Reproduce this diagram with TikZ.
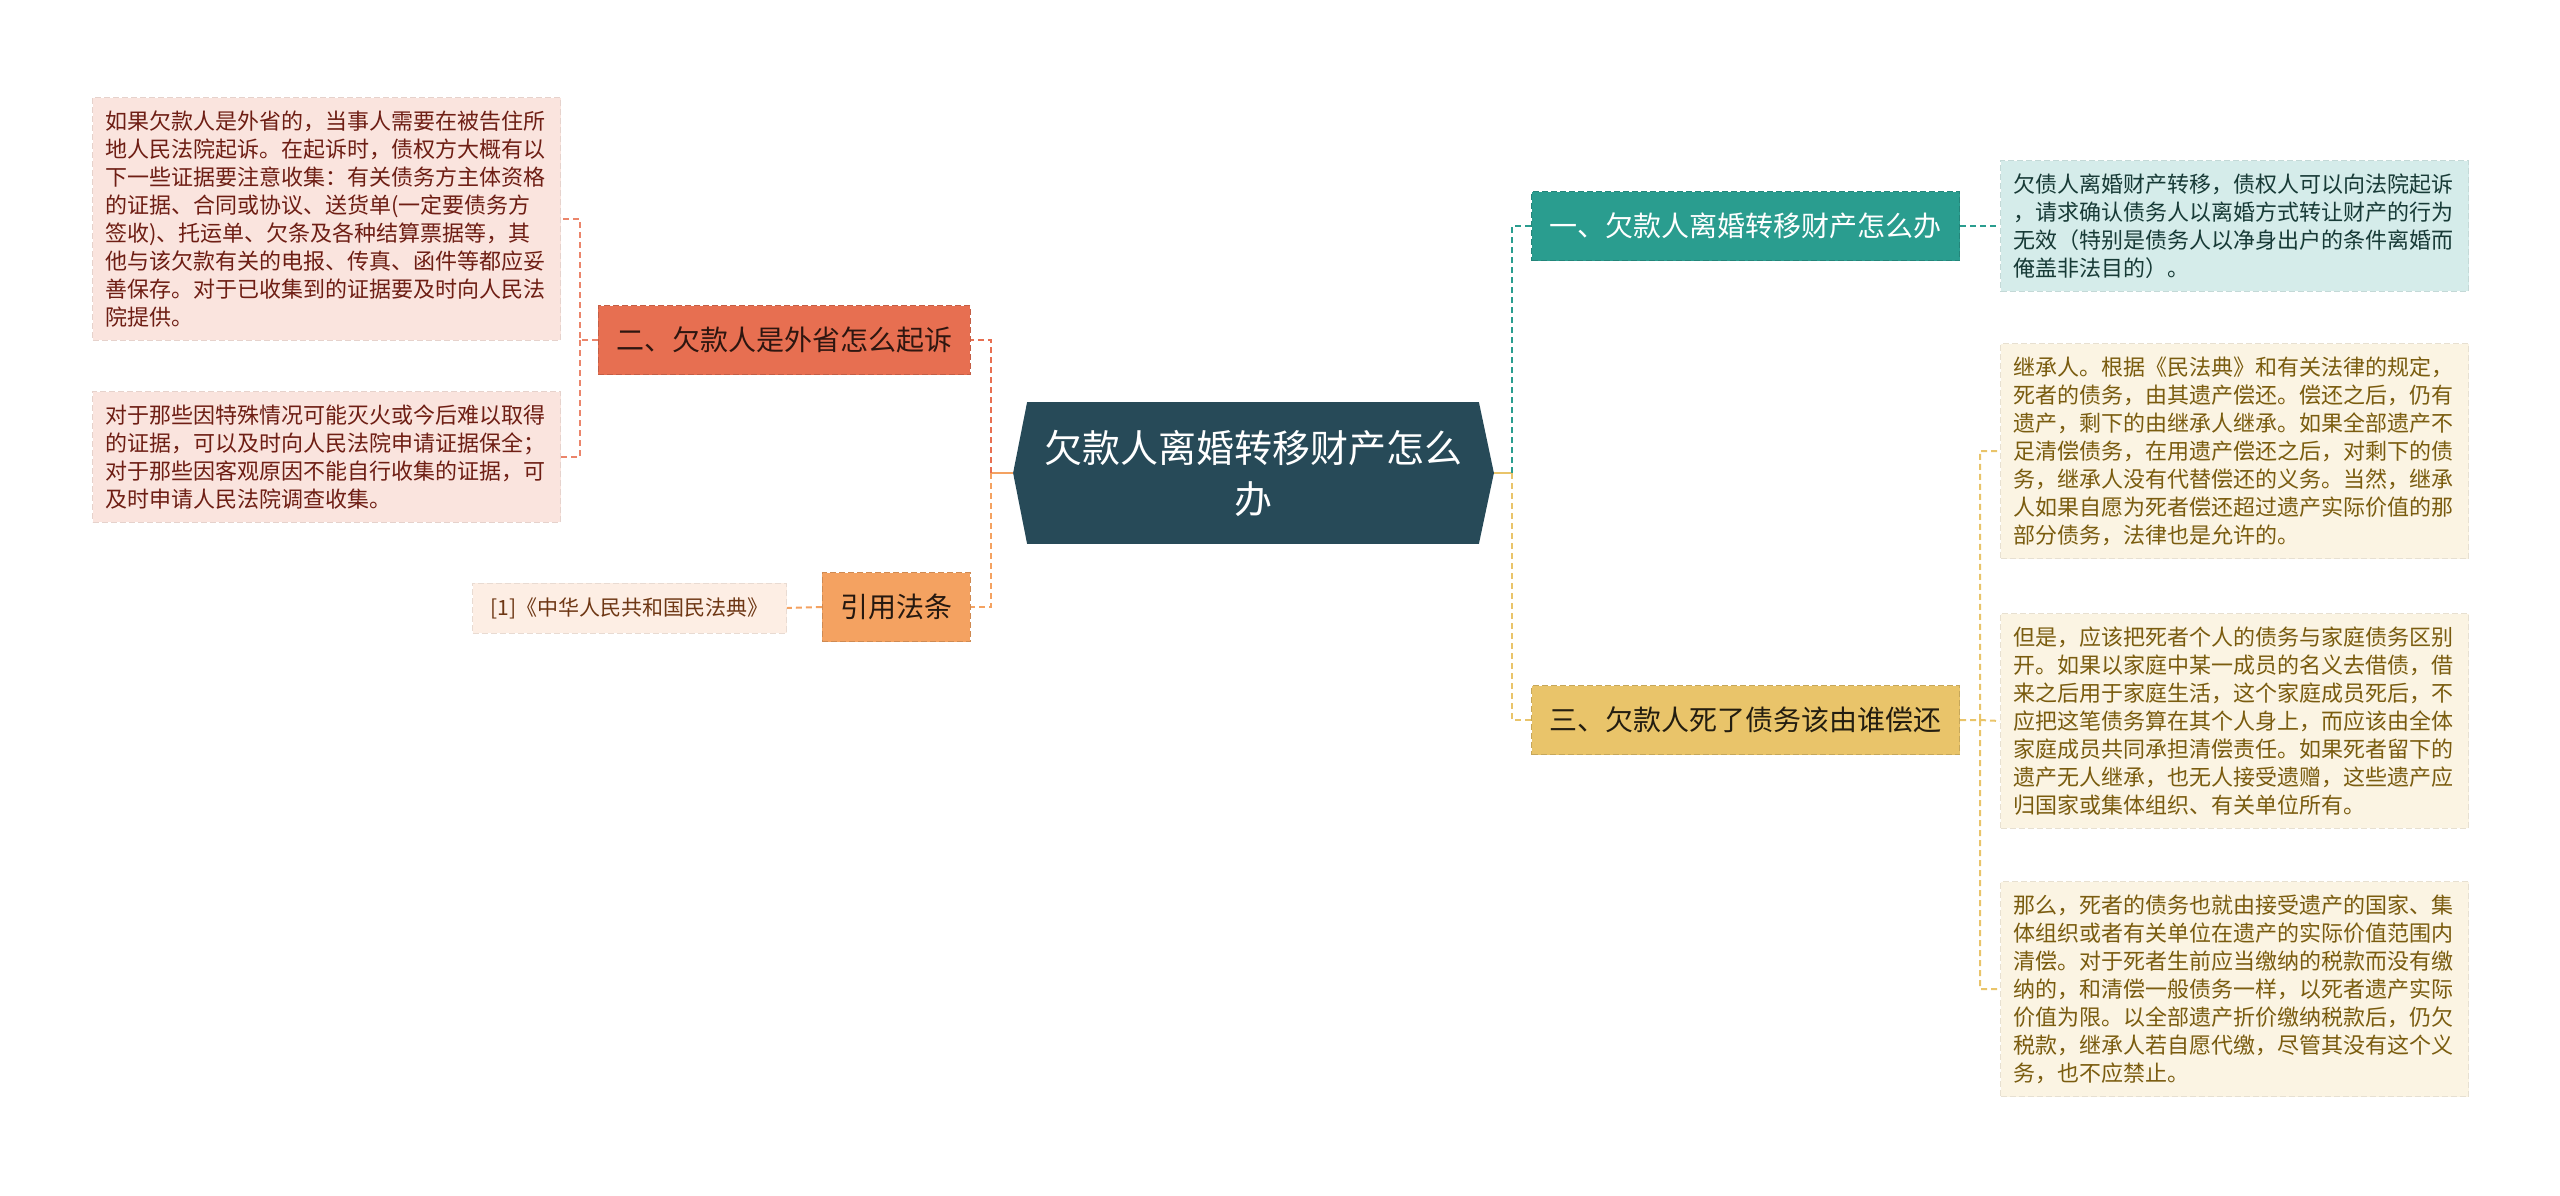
\documentclass[tikz,border=0pt]{standalone}
\usepackage{fontspec}
\setmainfont{Noto Sans CJK SC}
\usetikzlibrary{backgrounds}
\definecolor{rootc}{HTML}{274A58}
\definecolor{cone}{HTML}{2A9D8F}
\definecolor{ctwo}{HTML}{E76F51}
\definecolor{cthree}{HTML}{E9C46A}
\definecolor{cfour}{HTML}{F4A261}
\definecolor{pinkbg}{HTML}{FAE4DE}
\definecolor{peachbg}{HTML}{FDEEE4}
\definecolor{tealbg}{HTML}{D5ECEA}
\definecolor{creambg}{HTML}{FBF4E3}
\definecolor{pinktxt}{HTML}{6E1E14}
\definecolor{peachtxt}{HTML}{6E3714}
\definecolor{tealtxt}{HTML}{173A36}
\definecolor{creamtxt}{HTML}{7A5C0F}
\tikzset{
	root/.style={text=white,font=\fontsize{19pt}{25.5pt}\selectfont,align=center,minimum width=225.5pt,minimum height=70.5pt,inner sep=0pt},
	branch/.style={draw=#1!85!black,fill=#1,dash pattern=on 3pt off 1.5pt,line width=0.6pt,font=\fontsize{14pt}{17pt}\selectfont,minimum height=34.5pt,inner xsep=9pt,inner ysep=0pt},
	leaf/.style={draw=#1!92!black,fill=#1,dash pattern=on 3pt off 1.5pt,line width=0.5pt,font=\fontsize{11pt}{14pt}\selectfont,align=left,text width=221pt,inner sep=6.5pt},
	refbox/.style={draw=peachbg!92!black,fill=peachbg,dash pattern=on 3pt off 1.5pt,line width=0.5pt,font=\fontsize{10.5pt}{13pt}\selectfont,minimum height=25pt,inner xsep=9pt,inner ysep=0pt},
	link/.style={dash pattern=on 3pt off 2pt,line width=1pt},
	stub/.style={line width=1.2pt}
}
\begin{document}
\begin{tikzpicture}[x=0.5pt,y=-0.5pt]
	\useasboundingbox (0,0) rectangle (2560,1195);
	\node[root] (root) at (1253,473) {欠款人离婚转移财产怎么\\办};
	\coordinate (rootL) at ([xshift=-7pt]root.west);
	\coordinate (rootR) at ([xshift=7.5pt]root.east);
	\begin{scope}[on background layer]
		\fill[rootc] (root.north west) -- (root.north east) -- (rootR) -- (root.south east) -- (root.south west) -- (rootL) -- cycle;
	\end{scope}
	\node[branch=ctwo,text=black!80!ctwo,anchor=east] (n2) at (971,340) {二、欠款人是外省怎么起诉};
	\node[branch=cfour,text=black!85!cfour,anchor=east] (n4) at (971,607) {引用法条};
	\node[branch=cone,text=white,anchor=west] (n1) at (1531,226) {一、欠款人离婚转移财产怎么办};
	\node[branch=cthree,text=black!85!cthree,anchor=west] (n3) at (1531,720) {三、欠款人死了债务该由谁偿还};
	\node[refbox,text=peachtxt,anchor=east] (ref) at (787,608) {[1]《中华人民共和国民法典》};
	\node[leaf=pinkbg,text=pinktxt,anchor=east] (t2a) at (561,219) {如果欠款人是外省的，当事人需要在被告住所\\地人民法院起诉。在起诉时，债权方大概有以\\下一些证据要注意收集：有关债务方主体资格\\的证据、合同或协议、送货单(一定要债务方\\签收)、托运单、欠条及各种结算票据等，其\\他与该欠款有关的电报、传真、函件等都应妥\\善保存。对于已收集到的证据要及时向人民法\\院提供。};
	\node[leaf=pinkbg,text=pinktxt,anchor=east] (t2b) at (561,457) {对于那些因特殊情况可能灭火或今后难以取得\\的证据，可以及时向人民法院申请证据保全；\\对于那些因客观原因不能自行收集的证据，可\\及时申请人民法院调查收集。};
	\node[leaf=tealbg,text=tealtxt,anchor=west] (t1) at (2000,226) {欠债人离婚财产转移，债权人可以向法院起诉\\，请求确认债务人以离婚方式转让财产的行为\\无效（特别是债务人以净身出户的条件离婚而\\俺盖非法目的）。};
	\node[leaf=creambg,text=creamtxt,anchor=west] (t3a) at (2000,451) {继承人。根据《民法典》和有关法律的规定，\\死者的债务，由其遗产偿还。偿还之后，仍有\\遗产，剩下的由继承人继承。如果全部遗产不\\足清偿债务，在用遗产偿还之后，对剩下的债\\务，继承人没有代替偿还的义务。当然，继承\\人如果自愿为死者偿还超过遗产实际价值的那\\部分债务，法律也是允许的。};
	\node[leaf=creambg,text=creamtxt,anchor=west] (t3b) at (2000,721) {但是，应该把死者个人的债务与家庭债务区别\\开。如果以家庭中某一成员的名义去借债，借\\来之后用于家庭生活，这个家庭成员死后，不\\应把这笔债务算在其个人身上，而应该由全体\\家庭成员共同承担清偿责任。如果死者留下的\\遗产无人继承，也无人接受遗赠，这些遗产应\\归国家或集体组织、有关单位所有。};
	\node[leaf=creambg,text=creamtxt,anchor=west] (t3c) at (2000,989) {那么，死者的债务也就由接受遗产的国家、集\\体组织或者有关单位在遗产的实际价值范围内\\清偿。对于死者生前应当缴纳的税款而没有缴\\纳的，和清偿一般债务一样，以死者遗产实际\\价值为限。以全部遗产折价缴纳税款后，仍欠\\税款，继承人若自愿代缴，尽管其没有这个义\\务，也不应禁止。};
	\coordinate (lj) at (991,473);
	\coordinate (rj) at (1512,473);
	\coordinate (j2) at (580,340);
	\coordinate (j3) at (1980,720);
	\draw[stub,cfour] (rootL) -- (lj);
	\draw[link,ctwo] (lj) |- (n2.east);
	\draw[link,cfour] (lj) |- (n4.east);
	\draw[link,cfour] (n4.west) -- (ref.east);
	\draw[link,ctwo!85!white] (n2.west) -- (j2) |- (t2a.east) (j2) |- (t2b.east);
	\draw[stub,cthree] (rootR) -- (rj);
	\draw[link,cone] (rj) |- (n1.west);
	\draw[link,cthree] (rj) |- (n3.west);
	\draw[link,cone] (n1.east) -- (t1.west);
	\draw[link,cthree] (n3.east) -- (j3) |- (t3a.west) (j3) -- (t3b.west) (j3) |- (t3c.west);
\end{tikzpicture}
\end{document}
